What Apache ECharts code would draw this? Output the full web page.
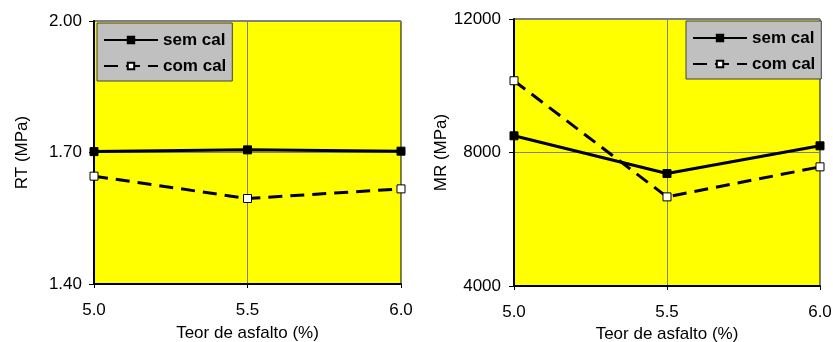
<!DOCTYPE html>
<html>
<head>
<meta charset="utf-8">
<script src="https://cdn.jsdelivr.net/npm/echarts@6/dist/echarts.min.js"></script>
<style>
  html, body { margin: 0; padding: 0; background: #ffffff; }
  #chart { width: 833px; height: 342px; }
</style>
</head>
<body>
<div id="chart"></div>
<script>
// Asphalt content (%) on the x axis
var teor = [5.0, 5.5, 6.0];

// Indirect tensile strength RT (MPa)
var rtSemCal = [1.702, 1.706, 1.703];
var rtComCal = [1.646, 1.595, 1.617];

// Resilient modulus MR (MPa)
var mrSemCal = [8500, 7370, 8200];
var mrComCal = [10150, 6670, 7570];

var seriesNames = ['sem cal', 'com cal'];

function pairs(xs, ys) {
  return xs.map(function (x, i) { return [x, ys[i]]; });
}

var FONT = 'Liberation Sans, Arial, sans-serif';
var FS = 17;

function xAxisFor(gridIndex, nameGap, labelMargin) {
  return {
    type: 'value', gridIndex: gridIndex, min: 5.0, max: 6.0, interval: 0.5,
    name: 'Teor de asfalto (%)', nameLocation: 'middle', nameGap: nameGap,
    nameTextStyle: { color: '#000', fontSize: FS, fontFamily: FONT },
    axisLine: { show: true, lineStyle: { color: '#000', width: 2 } },
    axisTick: { show: true, length: 4, lineStyle: { color: '#000' } },
    axisLabel: { color: '#000', fontSize: FS, fontFamily: FONT, margin: labelMargin,
      formatter: function (v) { return v.toFixed(1); } },
    splitLine: { show: true, lineStyle: { color: '#808080', width: 1 } }
  };
}

function yAxisFor(gridIndex, min, max, interval, name, digits, labelMargin) {
  return {
    type: 'value', gridIndex: gridIndex, min: min, max: max, interval: interval,
    name: name, nameLocation: 'middle', nameGap: 63, nameRotate: 90,
    nameTextStyle: { color: '#000', fontSize: FS, fontFamily: FONT },
    axisLine: { show: true, lineStyle: { color: '#000', width: 2 } },
    axisTick: { show: true, length: 5, inside: false, lineStyle: { color: '#000' } },
    axisLabel: { color: '#000', fontSize: FS, fontFamily: FONT, margin: labelMargin,
      formatter: function (v) { return digits ? v.toFixed(digits) : String(Math.round(v)); } },
    splitLine: { show: true, lineStyle: { color: '#808080', width: 1 } }
  };
}

function lineSeries(name, data, idx, filled) {
  return {
    type: 'line', name: name, xAxisIndex: idx, yAxisIndex: idx,
    data: data, symbol: 'rect', symbolSize: 8,
    lineStyle: { color: '#000', width: 3, type: filled ? 'solid' : [14, 8] },
    itemStyle: { color: filled ? '#000' : '#fff', borderColor: '#000', borderWidth: 1 },
    animation: false, z: 5
  };
}

function legendAt(pos) {
  return Object.assign({
    data: seriesNames, orient: 'vertical',
    backgroundColor: '#c0c0c0', borderColor: '#404040', borderWidth: 1,
    padding: [7, 6, 5, 6], itemGap: 6, itemWidth: 54, itemHeight: 8,
    textStyle: { color: '#000', fontSize: FS, fontWeight: 'bold', fontFamily: FONT,
      lineHeight: 20 },
    selectedMode: false
  }, pos);
}

var chart = echarts.init(document.getElementById('chart'), null, { renderer: 'canvas' });
chart.setOption({
  backgroundColor: '#ffffff',
  animation: false,
  grid: [
    { left: 94, top: 21, width: 307, height: 263, show: true, outerBoundsMode: 'none',
      containLabel: false,
      backgroundColor: '#ffff00', borderColor: '#000', borderWidth: 1 },
    { left: 514, top: 19, width: 306, height: 267, show: true, outerBoundsMode: 'none',
      containLabel: false,
      backgroundColor: '#ffff00', borderColor: '#000', borderWidth: 1 }
  ],
  legend: [
    legendAt({ left: 97, top: 23 }),
    legendAt({ left: 686, top: 21 })
  ],
  xAxis: [xAxisFor(0, 41, 18), xAxisFor(1, 35, 18)],
  yAxis: [
    yAxisFor(0, 1.40, 2.00, 0.30, 'RT (MPa)', 2, 12),
    yAxisFor(1, 4000, 12000, 4000, 'MR (MPa)', 0, 13)
  ],
  series: [
    lineSeries(seriesNames[0], pairs(teor, rtSemCal), 0, true),
    lineSeries(seriesNames[1], pairs(teor, rtComCal), 0, false),
    lineSeries(seriesNames[0], pairs(teor, mrSemCal), 1, true),
    lineSeries(seriesNames[1], pairs(teor, mrComCal), 1, false)
  ]
});
</script>
</body>
</html>
